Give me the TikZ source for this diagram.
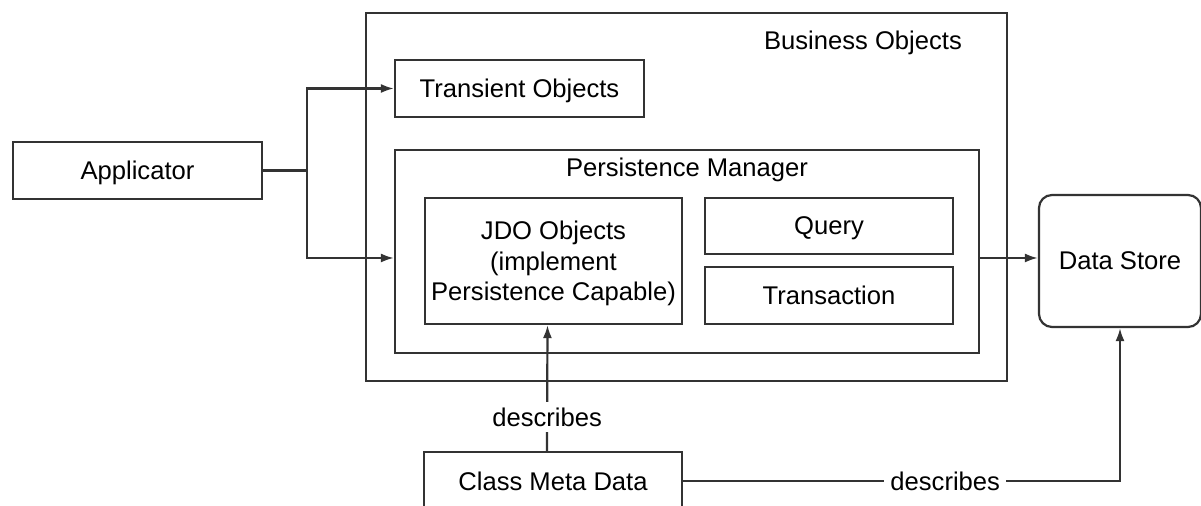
\documentclass[tikz,border=0pt]{standalone}
\usepackage{fontspec}
\setmainfont{Liberation Sans}
\usetikzlibrary{arrows.meta}

\begin{document}
\begin{tikzpicture}[x=0.5pt,y=-0.5pt, every node/.style={font=\fontsize{12.8}{15.2}\selectfont}] % 1 unit = 1 px, y grows down
\tikzstyle{mybox} = [draw=black!80, line width=1.1pt, inner sep=0pt, text depth=0pt] % plain box
\tikzstyle{myline} = [draw=black!80, line width=1.1pt] % connector
\tikzstyle{myarrow} = [myline, -{Latex[length=6.5pt,width=4.5pt]}] % connector with tip
\tikzstyle{mylabel} = [fill=white, inner sep=3pt] % text sitting on a connector
\path[use as bounding box, clip] (0,0) rectangle (1201,506);
% boxes
\node[mybox, minimum width=124.5pt, minimum height=28.5pt] (app) at (137.5,170.5) {Applicator};
\node[mybox, minimum width=320.5pt, minimum height=184pt] (bo) at (686.5,197) {};
\node[anchor=base] (botitle) at (863,50) {Business Objects};
\node[mybox, minimum width=124.5pt, minimum height=28.5pt] (trans) at (519.5,88.5) {Transient Objects};
\node[mybox, minimum width=292pt, minimum height=101.5pt] (pm) at (687,251.5) {};
\node[anchor=base] (pmtitle) at (687,177) {Persistence Manager};
\node[mybox, minimum width=128.5pt, minimum height=63pt, align=center] (jdo) at (553.5,261)
    {JDO Objects\\(implement\\Persistence Capable)};
\node[mybox, minimum width=124pt, minimum height=28pt] (query) at (829,226) {Query};
\node[mybox, minimum width=124pt, minimum height=28.5pt] (tx) at (829,295.5) {Transaction};
\node[mybox, rounded corners=6.5pt, minimum width=81pt, minimum height=66pt] (ds) at (1120,261) {Data Store};
\node[mybox, minimum width=129pt, minimum height=29pt] (cmd) at (553,481) {Class Meta Data};
% connectors
\coordinate (split) at (307,0);
\coordinate (mid) at (0,258);
\draw[myline] (app.east) -- (app.east -| split);
\draw[myarrow] (app.east -| split) |- (trans.west);
\draw[myarrow] (app.east -| split) |- (pm.west |- mid);
\draw[myarrow] (pm.east |- mid) -- (ds.west |- mid);
\draw[myarrow] ([xshift=-3pt]cmd.north) -- node[mylabel, pos=0.27] {describes} ([xshift=-3pt]jdo.south);
\draw[myarrow] (cmd.east) -| node[mylabel, pos=0.3] {describes} (ds.south);
\end{tikzpicture}
\end{document}
